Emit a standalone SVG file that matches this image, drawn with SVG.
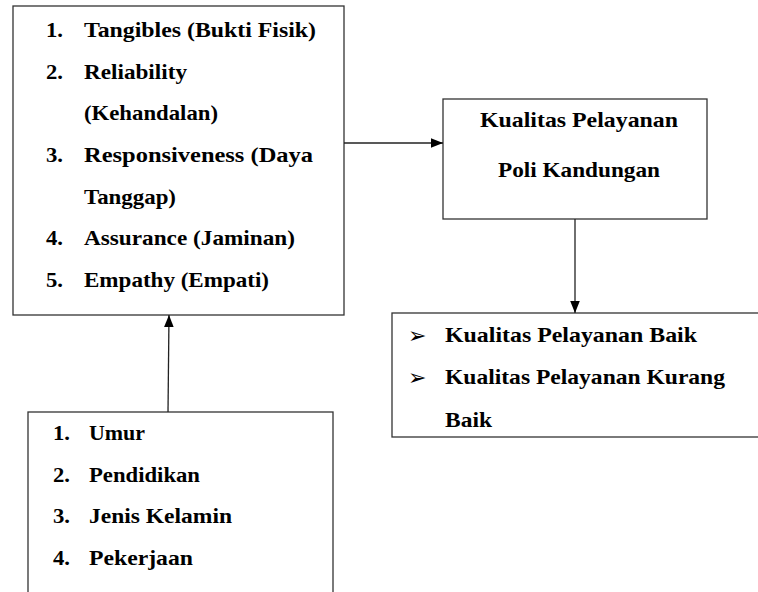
<svg xmlns="http://www.w3.org/2000/svg" width="758" height="592" viewBox="0 0 758 592">
<defs>
<marker id="ah" viewBox="0 0 10 10" refX="10" refY="5" markerWidth="12" markerHeight="12" markerUnits="userSpaceOnUse" orient="auto">
<path d="M0,1 L10,5 L0,9 Z" fill="#000"/>
</marker>
<style>
.box{fill:#fff;stroke:#333;stroke-width:1.3}
.t{font-family:'Liberation Serif',serif;font-weight:700;font-size:21.5px;fill:#000}
.b{font-family:'DejaVu Sans',sans-serif;font-size:22px;fill:#000}
.c{stroke:#222;stroke-width:1.3;fill:none;marker-end:url(#ah)}
</style>
</defs>
<rect width="758" height="592" fill="#fff"/>
<g id="dimensions">
<rect class="box" x="13" y="6" width="331" height="309"/>
<text class="t" x="46" y="37" textLength="17" lengthAdjust="spacingAndGlyphs">1.</text>
<text class="t" x="84" y="37" textLength="232" lengthAdjust="spacingAndGlyphs">Tangibles  (Bukti Fisik)</text>
<text class="t" x="46" y="79" textLength="17" lengthAdjust="spacingAndGlyphs">2.</text>
<text class="t" x="84" y="79" textLength="103" lengthAdjust="spacingAndGlyphs">Reliability</text>
<text class="t" x="84" y="120" textLength="134" lengthAdjust="spacingAndGlyphs">(Kehandalan)</text>
<text class="t" x="46" y="162" textLength="17" lengthAdjust="spacingAndGlyphs">3.</text>
<text class="t" x="84" y="162" textLength="229" lengthAdjust="spacingAndGlyphs">Responsiveness (Daya</text>
<text class="t" x="84" y="204" textLength="92" lengthAdjust="spacingAndGlyphs">Tanggap)</text>
<text class="t" x="46" y="245" textLength="17" lengthAdjust="spacingAndGlyphs">4.</text>
<text class="t" x="84" y="245" textLength="211" lengthAdjust="spacingAndGlyphs">Assurance (Jaminan)</text>
<text class="t" x="46" y="287" textLength="17" lengthAdjust="spacingAndGlyphs">5.</text>
<text class="t" x="84" y="287" textLength="185" lengthAdjust="spacingAndGlyphs">Empathy  (Empati)</text>
</g>
<g id="quality">
<rect class="box" x="443" y="99" width="264" height="120"/>
<text class="t" x="480" y="127" textLength="198" lengthAdjust="spacingAndGlyphs">Kualitas  Pelayanan</text>
<text class="t" x="498" y="177" textLength="162" lengthAdjust="spacingAndGlyphs">Poli Kandungan</text>
</g>
<g id="result">
<rect class="box" x="392" y="313" width="380" height="124"/>
<text class="b" x="408" y="343">➢</text>
<text class="t" x="445" y="342" textLength="252" lengthAdjust="spacingAndGlyphs">Kualitas Pelayanan Baik</text>
<text class="b" x="408" y="385">➢</text>
<text class="t" x="445" y="384" textLength="280" lengthAdjust="spacingAndGlyphs">Kualitas Pelayanan Kurang</text>
<text class="t" x="445" y="427" textLength="47" lengthAdjust="spacingAndGlyphs">Baik</text>
</g>
<g id="characteristics">
<rect class="box" x="28" y="412" width="305" height="190"/>
<text class="t" x="53" y="440" textLength="17" lengthAdjust="spacingAndGlyphs">1.</text>
<text class="t" x="89" y="440" textLength="56" lengthAdjust="spacingAndGlyphs">Umur</text>
<text class="t" x="53" y="482" textLength="17" lengthAdjust="spacingAndGlyphs">2.</text>
<text class="t" x="89" y="482" textLength="111" lengthAdjust="spacingAndGlyphs">Pendidikan</text>
<text class="t" x="53" y="523" textLength="17" lengthAdjust="spacingAndGlyphs">3.</text>
<text class="t" x="89" y="523" textLength="143" lengthAdjust="spacingAndGlyphs">Jenis Kelamin</text>
<text class="t" x="53" y="565" textLength="17" lengthAdjust="spacingAndGlyphs">4.</text>
<text class="t" x="89" y="565" textLength="104" lengthAdjust="spacingAndGlyphs">Pekerjaan</text>
</g>
<g id="connectors">
<line class="c" x1="344" y1="143" x2="443" y2="143"/>
<line class="c" x1="575" y1="219" x2="575" y2="313"/>
<line class="c" x1="168" y1="412" x2="169" y2="315"/>
</g>
</svg>
